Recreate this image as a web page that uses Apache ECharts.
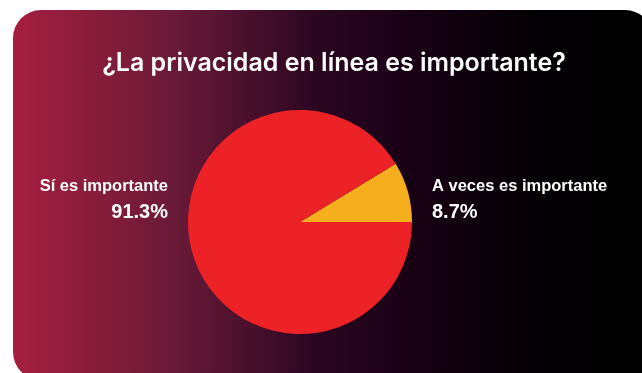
<!DOCTYPE html>
<html>
<head>
<meta charset="utf-8">
<script src="https://cdn.jsdelivr.net/npm/echarts@6/dist/echarts.min.js"></script>
<style>
  html, body { margin: 0; padding: 0; background: #ffffff; }
  #chart { width: 642px; height: 373px; }
</style>
</head>
<body>
<div id="chart"></div>
<script>
// Survey answers and their shares (percent)
const titleText = '¿La privacidad en línea es importante?';
const categories = ['A veces es importante', 'Sí es importante'];
const shares = [8.7, 91.3];
const sliceColors = ['#F6AE1E', '#EC2226'];

const FONT = '"Liberation Sans", Arial, sans-serif';
const TITLE_FONT = 'Inter, "Liberation Sans", sans-serif';
const chart = echarts.init(document.getElementById('chart'), null, { renderer: 'canvas' });

const cx = 300, cy = 222, r = 112;

chart.setOption({
  backgroundColor: '#ffffff',
  animation: false,
  graphic: [{
    type: 'rect',
    z: -10,
    silent: true,
    shape: { x: 13, y: 10, width: 640, height: 370, r: 28 },
    style: {
      fill: new echarts.graphic.LinearGradient(0, 0, 1, 0, [
        { offset: 0, color: '#a61f3f' },
        { offset: 0.25, color: '#6a1a37' },
        { offset: 0.47, color: '#2c0722' },
        { offset: 0.6, color: '#1a0016' },
        { offset: 0.82, color: '#030003' },
        { offset: 1, color: '#000000' }
      ])
    }
  }],
  title: {
    text: titleText,
    left: 329,
    top: 46,
    textAlign: 'center',
    textStyle: { color: '#ffffff', fontFamily: TITLE_FONT, fontSize: 25, fontWeight: 600 }
  },
  series: [{
    type: 'pie',
    center: [cx, cy],
    radius: r,
    startAngle: 0,
    clockwise: false,
    silent: true,
    data: categories.map((name, i) => ({
      name, value: shares[i], itemStyle: { color: sliceColors[i] }
    })),
    labelLine: { show: false },
    label: {
      show: true,
      position: 'outside',
      overflow: 'none',
      color: '#ffffff',
      fontFamily: FONT,
      formatter: p => `{n|${p.name}}\n{v|${p.value}%}`,
      rich: {
        n: { fontSize: 16.5, fontWeight: 'bold', color: '#ffffff', fontFamily: FONT, lineHeight: 24 },
        v: { fontSize: 20, fontWeight: 'bold', color: '#ffffff', fontFamily: FONT, lineHeight: 27 }
      }
    },
    labelLayout: p => p.dataIndex === 0
      ? { x: cx + 132, y: 200, align: 'left', verticalAlign: 'middle' }
      : { x: cx - 132, y: 200, align: 'right', verticalAlign: 'middle' }
  }]
});
</script>
</body>
</html>
